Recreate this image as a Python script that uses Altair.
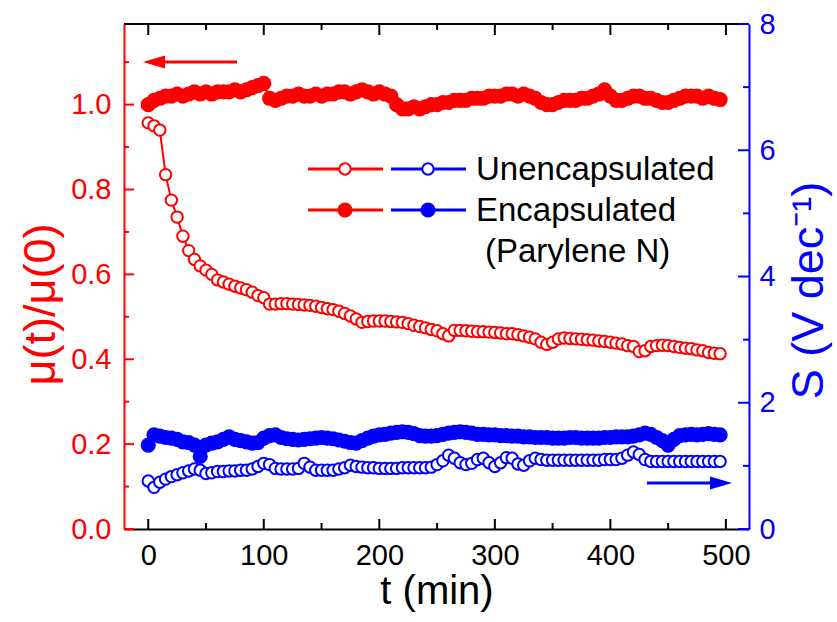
import altair as alt
import pandas as pd

# ---------------- data ----------------
T = list(range(0, 500, 5))

mu_unenc = [0.957, 0.95, 0.94, 0.835, 0.775, 0.735, 0.69, 0.656, 0.635, 0.62,
            0.61, 0.60, 0.587, 0.582, 0.577, 0.572, 0.568, 0.564, 0.558, 0.55,
            0.545, 0.53, 0.53, 0.531, 0.531, 0.53, 0.529, 0.528, 0.527, 0.525,
            0.522, 0.519, 0.517, 0.513, 0.508, 0.502, 0.495, 0.487, 0.489, 0.49,
            0.49, 0.49, 0.489, 0.488, 0.487, 0.484, 0.48, 0.477, 0.474, 0.47,
            0.467, 0.46, 0.455, 0.468, 0.468, 0.467, 0.466, 0.465, 0.465, 0.464,
            0.463, 0.462, 0.46, 0.46, 0.458, 0.455, 0.452, 0.448, 0.44, 0.435,
            0.44, 0.448, 0.45, 0.449, 0.448, 0.447, 0.446, 0.445, 0.443, 0.442,
            0.44, 0.438, 0.436, 0.432, 0.43, 0.418, 0.42, 0.43, 0.432, 0.433,
            0.432, 0.43, 0.428, 0.426, 0.425, 0.422, 0.42, 0.416, 0.414, 0.413]

mu_enc = [1.00, 1.01, 1.015, 1.02, 1.02, 1.025, 1.02, 1.025, 1.03, 1.025,
          1.03, 1.025, 1.03, 1.03, 1.03, 1.035, 1.03, 1.035, 1.04, 1.045,
          1.05, 1.015, 1.01, 1.015, 1.02, 1.02, 1.025, 1.02, 1.02, 1.025,
          1.02, 1.025, 1.025, 1.03, 1.03, 1.025, 1.03, 1.035, 1.03, 1.025,
          1.03, 1.025, 1.02, 1.0, 0.99, 0.99, 0.995, 0.99, 0.995, 1.0,
          1.0, 1.005, 1.005, 1.01, 1.01, 1.01, 1.015, 1.015, 1.015, 1.02,
          1.02, 1.02, 1.025, 1.025, 1.02, 1.025, 1.02, 1.015, 1.005, 1.0,
          1.0, 1.005, 1.01, 1.01, 1.01, 1.015, 1.015, 1.02, 1.025, 1.035,
          1.02, 1.01, 1.01, 1.015, 1.02, 1.02, 1.015, 1.015, 1.01, 1.005,
          1.005, 1.01, 1.015, 1.02, 1.02, 1.02, 1.015, 1.02, 1.015, 1.012]

s_unenc = [0.76, 0.66, 0.74, 0.79, 0.83, 0.86, 0.89, 0.92, 0.95, 0.93,
           0.88, 0.89, 0.91, 0.91, 0.92, 0.92, 0.93, 0.93, 0.95, 0.99,
           1.04, 1.02, 0.96, 0.95, 0.95, 0.95, 0.96, 1.04, 0.98, 0.93,
           0.93, 0.93, 0.93, 0.95, 0.97, 1.01, 0.99, 0.98, 0.97, 0.97,
           0.96, 0.96, 0.96, 0.96, 0.97, 0.97, 0.97, 0.97, 0.97, 0.98,
           1.02, 1.08, 1.17, 1.12, 1.05, 1.02, 1.04, 1.10, 1.12, 1.05,
           0.99, 1.05, 1.13, 1.12, 1.03, 1.01, 1.08, 1.12, 1.10, 1.09,
           1.09, 1.09, 1.09, 1.09, 1.09, 1.09, 1.09, 1.09, 1.09, 1.10,
           1.10, 1.10, 1.12, 1.17, 1.22, 1.18, 1.10, 1.07, 1.07, 1.07,
           1.07, 1.07, 1.07, 1.07, 1.07, 1.07, 1.07, 1.07, 1.07, 1.07]

s_enc = [1.33, 1.49, 1.47, 1.45, 1.44, 1.42, 1.38, 1.37, 1.33, 1.15,
         1.33, 1.36, 1.38, 1.42, 1.46, 1.42, 1.40, 1.38, 1.36, 1.37,
         1.44, 1.48, 1.49, 1.45, 1.43, 1.42, 1.41, 1.42, 1.43, 1.44,
         1.45, 1.44, 1.43, 1.41, 1.39, 1.37, 1.36, 1.40, 1.44, 1.47,
         1.49, 1.50, 1.52, 1.53, 1.54, 1.53, 1.51, 1.48, 1.47, 1.47,
         1.48, 1.50, 1.52, 1.53, 1.54, 1.53, 1.52, 1.50, 1.50, 1.49,
         1.49, 1.48, 1.48, 1.47, 1.47, 1.46, 1.46, 1.45, 1.45, 1.45,
         1.44, 1.44, 1.44, 1.45, 1.45, 1.44, 1.44, 1.44, 1.44, 1.45,
         1.45, 1.46, 1.46, 1.46, 1.47, 1.49, 1.52, 1.50, 1.45, 1.40,
         1.33, 1.42, 1.48, 1.49, 1.50, 1.49, 1.50, 1.51, 1.50, 1.49]

x_major = [0, 100, 200, 300, 400, 500]
x_minor = [50, 150, 250, 350, 450]
mu_major = [0.0, 0.2, 0.4, 0.6, 0.8, 1.0]
mu_minor = [0.1, 0.3, 0.5, 0.7, 0.9, 1.1]
s_major = [0, 2, 4, 6, 8]
s_minor = [1, 3, 5, 7]

legend_labels = ["Unencapsulated", "Encapsulated", "(Parylene N)"]

# ---------------- style ----------------
RED = "#ff0000"
BLUE = "#0000ff"
BLACK = "#000000"
FONT = "Liberation Sans"
W, H = 625, 505
LBL = 29
TTL = 40
VTTL = 45
OPEN_SIZE = 130
FILL_SIZE = 230

df = pd.DataFrame({"t": T, "mu_unenc": mu_unenc, "mu_enc": mu_enc,
                   "s_unenc": s_unenc, "s_enc": s_enc})

xsc = alt.Scale(domain=[-21, 520], nice=False, zero=False)
xax = alt.Axis(values=x_major, ticks=False, grid=False, domainColor=BLACK, domainWidth=2,
               labelColor=BLACK, labelFontSize=LBL, labelFont=FONT, labelPadding=12,
               title="t (min)", titleFontSize=TTL, titleFont=FONT, titleFontWeight="normal",
               titleColor=BLACK, titleBaseline="alphabetic", titleY=74)
X = alt.X("t:Q", scale=xsc, axis=xax)

lsc = alt.Scale(domain=[0, 1.19], nice=False, zero=False)
lax = alt.Axis(values=mu_major, format=".1f", ticks=False, grid=False, domainColor=RED,
               domainWidth=2, labelColor=RED, labelFontSize=LBL, labelFont=FONT, labelPadding=13,
               title="μ(t)/μ(0)", titleColor=RED, titleFontSize=VTTL, titleFont=FONT,
               titleFontWeight="normal", titleAngle=270, titleBaseline="alphabetic",
               titleX=-70, titleY=280)

rsc = alt.Scale(domain=[0, 8], nice=False, zero=False)
rax = alt.Axis(orient="right", values=s_major, format="d", ticks=False, grid=False,
               domainColor=BLUE, domainWidth=2, labelColor=BLUE, labelFontSize=LBL,
               labelFont=FONT, labelPadding=10,
               title="S (V dec⁻¹)", titleColor=BLUE, titleFontSize=VTTL, titleFont=FONT,
               titleFontWeight="normal", titleAngle=270, titleBaseline="alphabetic",
               titleX=73, titleY=266)


def YL(field):
    return alt.Y(f"{field}:Q", scale=lsc, axis=lax)


def YR(field):
    return alt.Y(f"{field}:Q", scale=rsc, axis=rax)


base = alt.Chart(df)

# ---- red (left scale) ----
red_open_line = base.mark_line(color=RED, strokeWidth=2).encode(x=X, y=YL("mu_unenc"))
red_open_pts = base.mark_point(shape="circle", filled=True, fill="white", stroke=RED,
                               strokeWidth=2, size=OPEN_SIZE, opacity=1).encode(x=X, y=YL("mu_unenc"))
red_enc_line = base.mark_line(color=RED, strokeWidth=2).encode(x=X, y=YL("mu_enc"))
red_enc_pts = base.mark_circle(color=RED, size=FILL_SIZE, opacity=1).encode(x=X, y=YL("mu_enc"))

xt_major = alt.Chart(pd.DataFrame({"t": x_major}))
xt_minor = alt.Chart(pd.DataFrame({"t": x_minor}))
tick_layers = [
    xt_major.mark_rule(color=BLACK, strokeWidth=2).encode(x=X, y=alt.value(H), y2=alt.value(H - 10)),
    xt_minor.mark_rule(color=BLACK, strokeWidth=2).encode(x=X, y=alt.value(H), y2=alt.value(H - 6)),
    xt_major.mark_rule(color=BLACK, strokeWidth=2).encode(x=X, y=alt.value(0), y2=alt.value(11)),
    xt_minor.mark_rule(color=BLACK, strokeWidth=2).encode(x=X, y=alt.value(0), y2=alt.value(6)),
]
lt_major = alt.Chart(pd.DataFrame({"mu": mu_major})).mark_rule(color=RED, strokeWidth=2).encode(
    y=YL("mu"), x=alt.value(0), x2=alt.value(10))
lt_minor = alt.Chart(pd.DataFrame({"mu": mu_minor})).mark_rule(color=RED, strokeWidth=2).encode(
    y=YL("mu"), x=alt.value(0), x2=alt.value(5))
top_line = alt.Chart(pd.DataFrame({"k": [0]})).mark_rule(color=BLACK, strokeWidth=2).encode(
    x=alt.value(0), x2=alt.value(W), y=alt.value(0))

left = alt.layer(red_open_line, red_open_pts, red_enc_line, red_enc_pts,
                 lt_major, lt_minor, *tick_layers, top_line)

# ---- blue (right scale) ----
blue_open_line = base.mark_line(color=BLUE, strokeWidth=2).encode(x=X, y=YR("s_unenc"))
blue_open_pts = base.mark_point(shape="circle", filled=True, fill="white", stroke=BLUE,
                                strokeWidth=2, size=OPEN_SIZE, opacity=1).encode(x=X, y=YR("s_unenc"))
blue_enc_line = base.mark_line(color=BLUE, strokeWidth=2).encode(x=X, y=YR("s_enc"))
blue_enc_pts = base.mark_circle(color=BLUE, size=FILL_SIZE, opacity=1).encode(x=X, y=YR("s_enc"))
rt_major = alt.Chart(pd.DataFrame({"s": s_major})).mark_rule(color=BLUE, strokeWidth=2).encode(
    y=YR("s"), x=alt.value(W), x2=alt.value(W - 11))
rt_minor = alt.Chart(pd.DataFrame({"s": s_minor})).mark_rule(color=BLUE, strokeWidth=2).encode(
    y=YR("s"), x=alt.value(W), x2=alt.value(W - 6))

right = alt.layer(blue_open_line, blue_open_pts, blue_enc_line, blue_enc_pts, rt_major, rt_minor)

# ---- legend & arrows (pixel positions) ----
one = alt.Chart(pd.DataFrame({"k": [0]}))
legend = []
for row_y, filled in [(145, False), (186, True)]:
    for col, x0, x1, xc in [(RED, 184, 259, 221), (BLUE, 267, 342, 304)]:
        legend.append(one.mark_rule(color=col, strokeWidth=3).encode(
            x=alt.value(x0), x2=alt.value(x1), y=alt.value(row_y)))
        if filled:
            legend.append(one.mark_circle(color=col, size=FILL_SIZE, opacity=1).encode(
                x=alt.value(xc), y=alt.value(row_y)))
        else:
            legend.append(one.mark_point(shape="circle", filled=True, fill="white", stroke=col,
                                         strokeWidth=2, size=OPEN_SIZE, opacity=1).encode(
                x=alt.value(xc), y=alt.value(row_y)))
for (lx, ly), txt in zip([(352, 146), (352, 187), (361, 228)], legend_labels):
    legend.append(one.mark_text(text=txt, align="left", baseline="middle", font=FONT,
                                fontSize=33, color=BLACK).encode(x=alt.value(lx), y=alt.value(ly)))

arrows = [
    one.mark_rule(color=RED, strokeWidth=3).encode(x=alt.value(27), x2=alt.value(113), y=alt.value(38)),
    one.mark_point(shape="M -1,0 L 1,-0.6 L 1,0.6 Z", filled=True, color=RED, size=484, opacity=1,
                   strokeWidth=0).encode(x=alt.value(30), y=alt.value(38)),
    one.mark_rule(color=BLUE, strokeWidth=3).encode(x=alt.value(523), x2=alt.value(592), y=alt.value(459)),
    one.mark_point(shape="M 1,0 L -1,-0.6 L -1,0.6 Z", filled=True, color=BLUE, size=484, opacity=1,
                   strokeWidth=0).encode(x=alt.value(597), y=alt.value(459)),
]

chart = alt.layer(left, right, *legend, *arrows).resolve_scale(y="independent").properties(
    width=W, height=H, autosize="none",
    padding={"left": 124, "top": 24, "right": 88, "bottom": 93},
).configure_view(stroke=None).configure(font=FONT, background="white")

chart.save("out.html", embed_options={"renderer": "svg", "actions": False})
